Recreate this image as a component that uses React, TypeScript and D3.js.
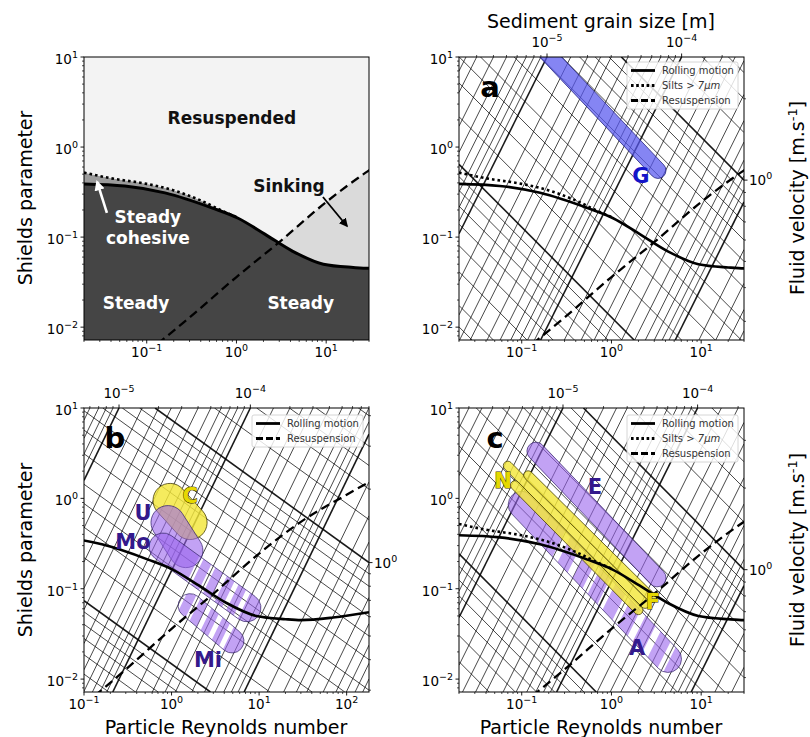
import React from "react";
import * as d3 from "d3";

const FONT = "'DejaVu Sans', sans-serif";

// ---------- threshold curves (Particle Reynolds number -> Shields parameter) ----------
const rollingRe = [0.02, 0.057, 0.16, 0.54, 1.03, 2.07, 4.2, 9.3, 20, 30, 70, 180];
const rollingTheta = [0.39, 0.37, 0.31, 0.21, 0.163, 0.108, 0.07, 0.05, 0.046, 0.045, 0.048, 0.055];
const siltsRe = [0.02, 0.04, 0.1, 0.2, 0.4, 0.7, 1.0];
const siltsTheta = [0.52, 0.45, 0.39, 0.33, 0.255, 0.195, 0.167];
const resuspRe = [0.1, 0.3, 1, 3, 10, 30, 100, 200];
const resuspTheta = [0.0052, 0.0128, 0.036, 0.088, 0.245, 0.55, 1.1, 1.6];

// ---------- axes ----------
const shieldsDomain: [number, number] = [0.0072, 10];
const shieldsTicks = [0.01, 0.1, 1, 10];
const reDomainTop: [number, number] = [0.02, 30];
const reDomainB: [number, number] = [0.1, 180];
const reTicksTop = [0.1, 1, 10];
const reTicksBottom = [0.1, 1, 10, 100];
const logMinor = [2, 3, 4, 5, 6, 7, 8, 9];
const tickMultipliers = [1, 2, 3, 4, 5, 6, 7, 8, 9];
const gridMultipliers = [1, 1.5, 2, 2.5, 3, 4, 5, 6, 7, 8, 9];
const grainDecades = [1e-8, 1e-7, 1e-6, 1e-5, 1e-4, 1e-3, 1e-2, 1e-1];
const velocityDecades = [1e-4, 1e-3, 1e-2, 1e-1, 1, 10, 100];

// iso-lines: log θ = 2 log Re − 3 log d + cd ;  log θ = s log Re + k log U + cu
type Iso = { cd: number; s: number; k: number; cu: number };
const isoA: Iso = { cd: -12.564, s: -1, k: 3, cu: 1.11 };
const isoB: Iso = { cd: -12.8, s: -0.7, k: 2.7, cu: 0.868 };
const isoC: Iso = { cd: -12.92, s: -1, k: 3, cu: 0.688 };

// ---------- sediment ranges [label, Re0, θ0, Re1, θ1] ----------
type Band = [string, number, number, number, number];
const bandsA: Band[] = [["G", 0.17, 12.5, 3.3, 0.55]];
const bandsB: Band[] = [
  ["C", 0.96, 0.95, 1.63, 0.54],
  ["U", 0.91, 0.54, 1.46, 0.264],
  ["Mo", 0.8, 0.29, 7.27, 0.0615],
  ["Mi", 1.63, 0.065, 4.9, 0.0264],
];
const bandsC: Band[] = [
  ["A", 0.1, 0.85, 4.27, 0.0167],
  ["E", 0.144, 3.33, 3.22, 0.132],
  ["N1", 0.07, 2.3, 2.37, 0.068],
  ["N2", 0.118, 1.8, 2.84, 0.079],
  ["N3", 0.084, 1.4, 2.0, 0.058],
];
// grain sizes [m] of the gaps inside striped ranges
const gapsB = [1.51e-4, 2.0e-4, 2.63e-4, 3.47e-4, 4.57e-4];
const gapsC = [3.16e-5, 4.68e-5, 6.92e-5, 1.02e-4, 1.51e-4, 2.24e-4, 3.31e-4, 4.9e-4];

// ---------- labels [text, Re, θ] ----------
type Lab = [string, number, number];
const labelsA: Lab[] = [["G", 2.13, 0.477]];
const labelsB: Lab[] = [["C", 1.63, 1.06], ["U", 0.472, 0.685], ["Mo", 0.363, 0.327], ["Mi", 2.61, 0.0161]];
const labelsC: Lab[] = [["N", 0.0618, 1.55], ["E", 0.656, 1.33], ["F", 2.9, 0.072], ["A", 1.93, 0.0222]];
const regimeLabels: Lab[] = [
  ["Resuspended", 0.89, 2.1],
  ["Sinking", 3.85, 0.37],
  ["Steady", 0.076, 0.0186],
  ["Steady", 5.2, 0.0186],
  ["Steady", 0.103, 0.167],
  ["cohesive", 0.103, 0.098],
];
const sinkingArrow = [[9.2, 0.279], [17, 0.133]];
const cohesiveArrow = [[0.036, 0.186], [0.028, 0.41]];

// ---------- styles ----------
const bandWidth: Record<string, number> = { G: 16, C: 34, U: 34, Mo: 28, Mi: 24, A: 27, E: 18, N1: 9, N2: 9, N3: 9 };
const bandKind: Record<string, string> = { G: "blue", C: "yellow", U: "purple", Mo: "purple", Mi: "purple", A: "purple", E: "purple", N1: "yellow", N2: "yellow", N3: "yellow" };
const kindStyle: Record<string, { fill: string; op: number; stroke: string }> = {
  blue: { fill: "#5656ee", op: 0.72, stroke: "#1c1c78" },
  purple: { fill: "#9a64ec", op: 0.6, stroke: "#3a2870" },
  yellow: { fill: "#f3e63a", op: 0.82, stroke: "#3e3600" },
};
const stripedBands: Record<string, number[]> = { Mo: gapsB, Mi: gapsB, A: gapsC };
const labelColor: Record<string, { fill: string; stroke?: string }> = {
  G: { fill: "#1414c8" },
  U: { fill: "#33198c" }, Mo: { fill: "#33198c" }, Mi: { fill: "#33198c" }, E: { fill: "#33198c" }, A: { fill: "#33198c" },
  C: { fill: "#e6d800", stroke: "#3a3300" }, N: { fill: "#e6d800", stroke: "#3a3300" }, F: { fill: "#e6d800", stroke: "#3a3300" },
};

const legendDefs: Record<string, { label: string; dash?: string }> = {
  rolling: { label: "Rolling motion" },
  silts: { label: "Silts > ", dash: "2.6,2.6" },
  resusp: { label: "Resuspension", dash: "7,3" },
};

type Cfg = {
  id: string; left: number; top: number; w: number; h: number;
  xDom: [number, number]; xTicks: number[];
  iso?: Iso; regimes?: boolean; silts: boolean;
  legend?: string[]; letter?: string; bands?: Band[]; labels?: Lab[];
};

const panels: Cfg[] = [
  { id: "r", left: 84, top: 57, w: 285, h: 283, xDom: reDomainTop, xTicks: reTicksTop, regimes: true, silts: true },
  { id: "a", left: 459, top: 57, w: 285, h: 283, xDom: reDomainTop, xTicks: reTicksTop, iso: isoA, silts: true, legend: ["rolling", "silts", "resusp"], letter: "a", bands: bandsA, labels: labelsA },
  { id: "b", left: 84, top: 408, w: 285, h: 284, xDom: reDomainB, xTicks: reTicksBottom, iso: isoB, silts: false, legend: ["rolling", "resusp"], letter: "b", bands: bandsB, labels: labelsB },
  { id: "c", left: 459, top: 408, w: 285, h: 284, xDom: reDomainTop, xTicks: reTicksTop, iso: isoC, silts: true, legend: ["rolling", "silts", "resusp"], letter: "c", bands: bandsC, labels: labelsC },
];

function fmtExp(v: number) {
  const e = Math.round(Math.log10(v));
  return e < 0 ? "\u2212" + Math.abs(e) : String(e);
}

function Pow({ x, y, v, anchor }: { x: number; y: number; v: number; anchor: string }) {
  return (
    <text x={x} y={y} textAnchor={anchor} fontSize={13.5} fill="#000">
      10<tspan fontSize={9.5} dy={-6}>{fmtExp(v)}</tspan>
    </text>
  );
}

function stadium(p0: number[], p1: number[], r: number) {
  const dx = p1[0] - p0[0], dy = p1[1] - p0[1];
  const L = Math.hypot(dx, dy) || 1;
  const ux = dx / L, uy = dy / L;
  const nx = uy, ny = -ux;
  const a = [p0[0] + nx * r, p0[1] + ny * r];
  const b = [p1[0] + nx * r, p1[1] + ny * r];
  const c = [p1[0] - nx * r, p1[1] - ny * r];
  const e = [p0[0] - nx * r, p0[1] - ny * r];
  return `M${a[0]},${a[1]}L${b[0]},${b[1]}A${r},${r} 0 0 1 ${c[0]},${c[1]}L${e[0]},${e[1]}A${r},${r} 0 0 1 ${a[0]},${a[1]}Z`;
}

function Panel({ c }: { c: Cfg }) {
  const x = d3.scaleLog().domain(c.xDom).range([c.left, c.left + c.w]);
  const y = d3.scaleLog().domain(shieldsDomain).range([c.top + c.h, c.top]);
  const X0 = Math.log10(c.xDom[0]), X1 = Math.log10(c.xDom[1]);
  const Y0 = Math.log10(shieldsDomain[0]), Y1 = Math.log10(shieldsDomain[1]);
  const bottom = c.top + c.h, right = c.left + c.w;
  const clipId = `clip-${c.id}`;

  const seg = (a: number, b: number) => {
    const s1 = (Y0 - b) / a, s2 = (Y1 - b) / a;
    const lo = Math.max(X0, Math.min(s1, s2)), hi = Math.min(X1, Math.max(s1, s2));
    if (!(hi > lo)) return null;
    return `M${x(10 ** lo)},${y(10 ** (a * lo + b))}L${x(10 ** hi)},${y(10 ** (a * hi + b))}`;
  };

  const idx = (arr: number[]) => arr.map((_, i) => i);
  const line = (re: number[], th: number[]) =>
    d3.line<number>().x((i) => x(re[i])).y((i) => y(th[i])).curve(d3.curveMonotoneX)(idx(re)) || "";
  const area = (re: number[], th: number[]) =>
    d3.area<number>().x((i) => x(re[i])).y0(bottom).y1((i) => y(th[i])).curve(d3.curveMonotoneX)(idx(re)) || "";

  const grid: { d: string; major: boolean }[] = [];
  const topTicks: { px: number; major: boolean; v: number }[] = [];
  const rightTicks: { py: number; major: boolean; v: number }[] = [];
  if (c.iso) {
    const iso = c.iso;
    grainDecades.forEach((dec) => {
      gridMultipliers.forEach((m) => {
        const s = seg(2, iso.cd - 3 * Math.log10(dec * m));
        if (s) grid.push({ d: s, major: m === 1 });
      });
      tickMultipliers.forEach((m) => {
        const dv = dec * m;
        const Xt = (Y1 - (iso.cd - 3 * Math.log10(dv))) / 2;
        if (Xt >= X0 && Xt <= X1) topTicks.push({ px: x(10 ** Xt), major: m === 1, v: dv });
      });
    });
    velocityDecades.forEach((dec) => {
      gridMultipliers.forEach((m) => {
        const s = seg(iso.s, iso.k * Math.log10(dec * m) + iso.cu);
        if (s) grid.push({ d: s, major: m === 1 });
      });
      tickMultipliers.forEach((m) => {
        const u = dec * m;
        const Yr = iso.s * X1 + iso.k * Math.log10(u) + iso.cu;
        if (Yr >= Y0 && Yr <= Y1) rightTicks.push({ py: y(10 ** Yr), major: m === 1, v: u });
      });
    });
  }

  const xMinor: number[] = [];
  [0.01, 0.1, 1, 10, 100].forEach((dec) => logMinor.forEach((m) => {
    const v = dec * m;
    if (v >= c.xDom[0] && v <= c.xDom[1]) xMinor.push(v);
  }));
  const yMinor: number[] = [];
  [0.001, 0.01, 0.1, 1].forEach((dec) => logMinor.forEach((m) => {
    const v = dec * m;
    if (v >= shieldsDomain[0] && v <= shieldsDomain[1]) yMinor.push(v);
  }));

  const lw = c.regimes ? 3 : 2.6;

  return (
    <g>
      <defs>
        <clipPath id={clipId}>
          <rect x={c.left} y={c.top} width={c.w} height={c.h} />
        </clipPath>
        {c.iso && c.bands && c.bands.filter((bd) => stripedBands[bd[0]]).map((bd) => (
          <mask key={bd[0]} id={`mask-${c.id}-${bd[0]}`} maskUnits="userSpaceOnUse" x={0} y={0} width={810} height={737}>
            <path d={stadium([x(bd[1]), y(bd[2])], [x(bd[3]), y(bd[4])], bandWidth[bd[0]] / 2)} fill="#fff" />
            {stripedBands[bd[0]].map((g, i) => {
              const s = seg(2, c.iso!.cd - 3 * Math.log10(g));
              return s ? <path key={i} d={s} stroke="#000" strokeWidth={c.id === "b" ? 5 : 7} fill="none" /> : null;
            })}
          </mask>
        ))}
      </defs>

      <g clipPath={`url(#${clipId})`}>
        {c.regimes ? (
          <g>
            <rect x={c.left} y={c.top} width={c.w} height={c.h} fill="#f3f3f3" />
            <path d={area(resuspRe, resuspTheta)} fill="#dadada" />
            <path d={area(siltsRe, siltsTheta)} fill="#9b9b9b" />
            <path d={area(rollingRe, rollingTheta)} fill="#454545" />
          </g>
        ) : (
          <rect x={c.left} y={c.top} width={c.w} height={c.h} fill="#fff" />
        )}
        {grid.map((g, i) => (
          <path key={i} d={g.d} stroke="#000" strokeOpacity={0.9} strokeWidth={g.major ? 1.6 : 0.8} fill="none" />
        ))}
        {c.bands && c.bands.map((bd) => {
          const st = kindStyle[bandKind[bd[0]]];
          const p = stadium([x(bd[1]), y(bd[2])], [x(bd[3]), y(bd[4])], bandWidth[bd[0]] / 2);
          const striped = !!stripedBands[bd[0]];
          return (
            <g key={bd[0]}>
              <path d={p} fill={st.fill} fillOpacity={st.op} stroke="none" mask={striped ? `url(#mask-${c.id}-${bd[0]})` : undefined} />
              <path d={p} fill="none" stroke={st.stroke} strokeWidth={0.9} strokeOpacity={0.85} />
            </g>
          );
        })}
        {c.silts && <path d={line(siltsRe, siltsTheta)} fill="none" stroke="#000" strokeWidth={2.6} strokeDasharray="2.6,3" />}
        <path d={line(rollingRe, rollingTheta)} fill="none" stroke="#000" strokeWidth={lw} />
        <path d={line(resuspRe, resuspTheta)} fill="none" stroke="#000" strokeWidth={2.3} strokeDasharray="9,5" />
      </g>

      <rect x={c.left} y={c.top} width={c.w} height={c.h} fill="none" stroke="#000" strokeWidth={1} />

      {xMinor.map((v, i) => <line key={"xm" + i} x1={x(v)} x2={x(v)} y1={bottom} y2={bottom + 2} stroke="#000" strokeWidth={0.7} />)}
      {c.xTicks.map((v) => (
        <g key={"xt" + v}>
          <line x1={x(v)} x2={x(v)} y1={bottom} y2={bottom + 3.5} stroke="#000" strokeWidth={0.9} />
          <Pow x={x(v)} y={bottom + 17} v={v} anchor="middle" />
        </g>
      ))}
      {yMinor.map((v, i) => <line key={"ym" + i} x1={c.left - 2} x2={c.left} y1={y(v)} y2={y(v)} stroke="#000" strokeWidth={0.7} />)}
      {shieldsTicks.map((v) => (
        <g key={"yt" + v}>
          <line x1={c.left - 3.5} x2={c.left} y1={y(v)} y2={y(v)} stroke="#000" strokeWidth={0.9} />
          <Pow x={c.left - 6} y={y(v) + 7} v={v} anchor="end" />
        </g>
      ))}
      {topTicks.map((t, i) => (
        <g key={"tt" + i}>
          <line x1={t.px} x2={t.px} y1={c.top} y2={c.top - (t.major ? 3.5 : 2)} stroke="#000" strokeWidth={t.major ? 0.9 : 0.7} />
          {t.major && <Pow x={t.px} y={c.top - 10} v={t.v} anchor="middle" />}
        </g>
      ))}
      {rightTicks.map((t, i) => (
        <g key={"rt" + i}>
          <line x1={right} x2={right + (t.major ? 3.5 : 2)} y1={t.py} y2={t.py} stroke="#000" strokeWidth={t.major ? 0.9 : 0.7} />
          {t.major && <Pow x={right + 5} y={t.py + 5} v={t.v} anchor="start" />}
        </g>
      ))}

      {c.regimes && (
        <g fontWeight="bold" fontSize={17} textAnchor="middle" dominantBaseline="central">
          {regimeLabels.map((l, i) => (
            <text key={i} x={x(l[1])} y={y(l[2])} fill={i < 2 ? "#111" : "#fff"}>{l[0]}</text>
          ))}
          <line x1={x(sinkingArrow[0][0])} y1={y(sinkingArrow[0][1])} x2={x(sinkingArrow[1][0])} y2={y(sinkingArrow[1][1])} stroke="#000" strokeWidth={1.8} markerEnd="url(#arrowBlack)" />
          <line x1={x(cohesiveArrow[0][0])} y1={y(cohesiveArrow[0][1])} x2={x(cohesiveArrow[1][0])} y2={y(cohesiveArrow[1][1])} stroke="#fff" strokeWidth={2.6} markerEnd="url(#arrowWhite)" />
        </g>
      )}

      {c.legend && (() => {
        const bx = right - 117, by = c.top + (c.top < 100 ? 5 : 7);
        const bh = c.legend.length * 15 + 2;
        return (
          <g>
            <rect x={bx} y={by} width={111} height={bh} rx={2} fill="#fff" fillOpacity={0.82} stroke="#cccccc" strokeWidth={0.8} />
            {c.legend.map((k, i) => {
              const ly = by + 8.5 + i * 15;
              const def = legendDefs[k];
              return (
                <g key={k}>
                  <line x1={bx + 4} x2={bx + 28} y1={ly} y2={ly} stroke="#000" strokeWidth={2.8} strokeDasharray={def.dash} />
                  <text x={bx + 35} y={ly + 3.5} fontSize={10} fill="#333">
                    {def.label}
                    {k === "silts" && <tspan fontStyle="italic">7μm</tspan>}
                  </text>
                </g>
              );
            })}
          </g>
        );
      })()}

      {c.labels && c.labels.map((l) => {
        const col = labelColor[l[0]];
        return (
          <text key={l[0]} x={x(l[1])} y={y(l[2])} textAnchor="middle" dominantBaseline="central" fontSize={21} fontWeight="bold"
            fill={col.fill} stroke={col.stroke || "none"} strokeWidth={col.stroke ? 0.9 : 0} paintOrder="stroke">
            {l[0]}
          </text>
        );
      })}
      {c.letter && (
        <text x={c.left + (c.id === "c" ? 36 : 31)} y={c.top + 30} textAnchor="middle" dominantBaseline="central" fontSize={29} fontWeight="bold" fill="#000">
          {c.letter}
        </text>
      )}
    </g>
  );
}

export default function App() {
  return (
    <svg width={810} height={737} style={{ position: "absolute", left: 0, top: 0, background: "#fff" }} fontFamily={FONT}>
      <defs>
        <marker id="arrowBlack" viewBox="0 0 10 10" refX={8} refY={5} markerWidth={5} markerHeight={5} orient="auto" markerUnits="strokeWidth">
          <path d="M0,0L10,5L0,10z" fill="#000" />
        </marker>
        <marker id="arrowWhite" viewBox="0 0 10 10" refX={8} refY={5} markerWidth={4} markerHeight={4} orient="auto" markerUnits="strokeWidth">
          <path d="M0,0L10,5L0,10z" fill="#fff" />
        </marker>
      </defs>
      <rect x={0} y={0} width={810} height={737} fill="#fff" />
      {panels.map((p) => <Panel key={p.id} c={p} />)}

      <g fontSize={19} fill="#000" textAnchor="middle">
        <text transform="translate(32,198) rotate(-90)">Shields parameter</text>
        <text transform="translate(32,550) rotate(-90)">Shields parameter</text>
        <text transform="translate(804,198) rotate(-90)">Fluid velocity [m.s<tspan fontSize={13} dy={-7}>-1</tspan><tspan dy={7}>]</tspan></text>
        <text transform="translate(804,550) rotate(-90)">Fluid velocity [m.s<tspan fontSize={13} dy={-7}>-1</tspan><tspan dy={7}>]</tspan></text>
        <text x={226} y={734}>Particle Reynolds number</text>
        <text x={601} y={734}>Particle Reynolds number</text>
        <text x={601} y={28}>Sediment grain size [m]</text>
      </g>
    </svg>
  );
}
